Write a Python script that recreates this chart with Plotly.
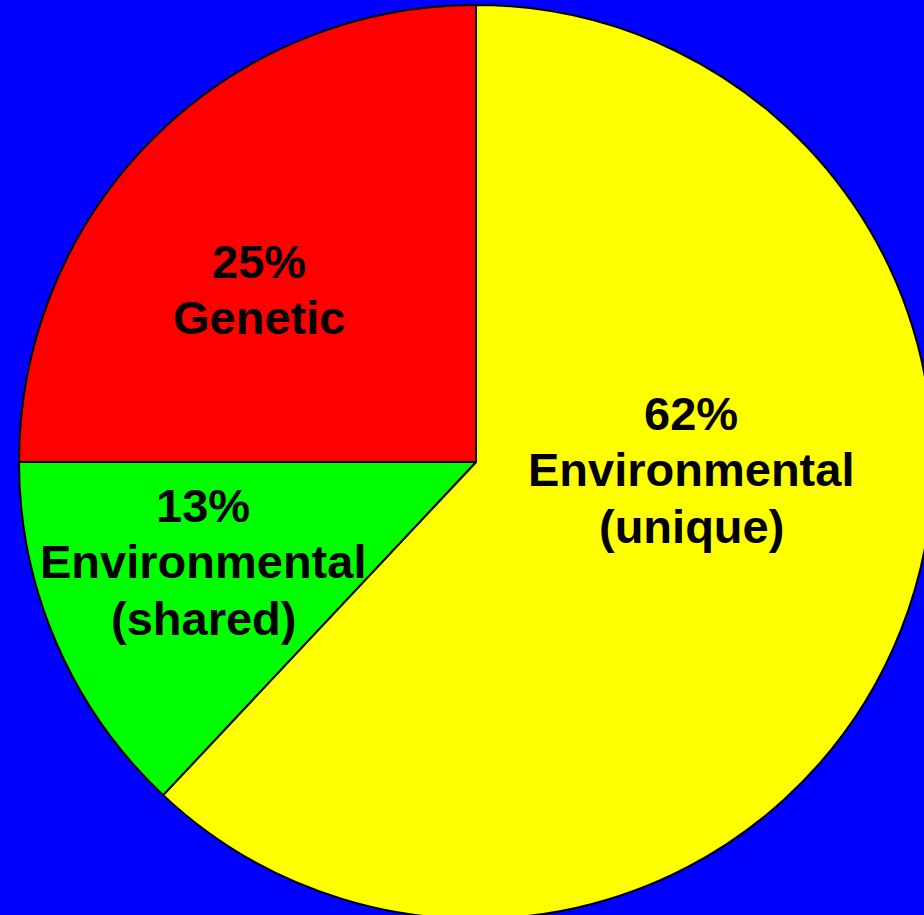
import plotly.graph_objects as go

# ---- data ----
categories = ["Environmental (unique)", "Environmental (shared)", "Genetic"]
values = [62, 13, 25]
colors = ["#FFFF00", "#00FF00", "#FF0000"]
name_lines = [["Environmental", "(unique)"], ["Environmental", "(shared)"], ["Genetic"]]

# ---- layout constants (pixels) ----
W, H = 933, 920
FS = 47
LINE = 56.5
# label block first-line centre (x, y) in pixels
label_pos = [(691, 413), (203, 505), (259, 261)]

fig = go.Figure(
    go.Pie(
        labels=categories,
        values=values,
        sort=False,
        direction="clockwise",
        rotation=0,
        marker=dict(colors=colors, line=dict(color="black", width=2)),
        textinfo="none",
        hoverinfo="label+percent",
        showlegend=False,
        domain=dict(x=[19 / W, 1], y=[1 / H, 915 / H]),
    )
)

annotations = []
for v, lines, (px, py) in zip(values, name_lines, label_pos):
    texts = [f"{v}%"] + lines
    for i, t in enumerate(texts):
        annotations.append(
            dict(
                text=t,
                x=px / W,
                y=1 - (py + i * LINE) / H,
                xref="paper",
                yref="paper",
                xanchor="center",
                yanchor="middle",
                showarrow=False,
                font=dict(family="Liberation Sans, Arial, sans-serif", size=FS, color="black", weight="bold"),
            )
        )

fig.update_layout(
    width=W,
    height=H,
    margin=dict(l=0, r=0, t=0, b=0),
    paper_bgcolor="#0000FF",
    plot_bgcolor="#0000FF",
    annotations=annotations,
)

fig.write_html(
    "out.html",
    config={"displayModeBar": False},
    post_script="document.body.style.margin='0';document.body.style.overflow='hidden';document.body.style.background='#0000FF';",
)
